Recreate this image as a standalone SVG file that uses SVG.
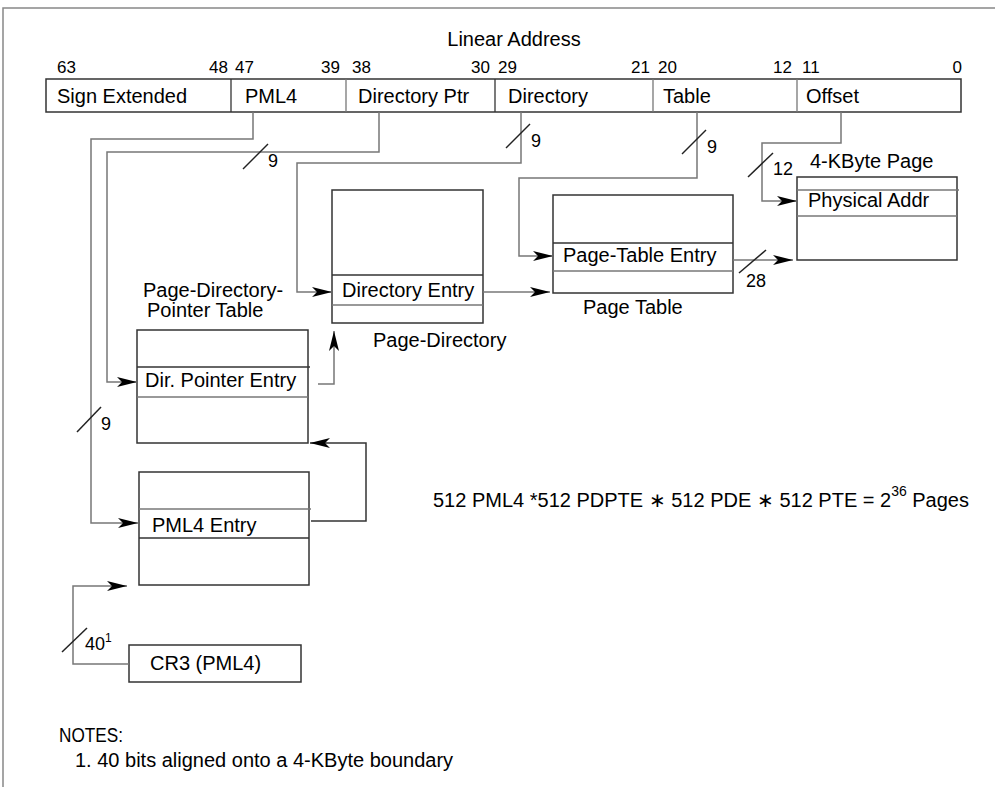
<svg xmlns="http://www.w3.org/2000/svg" width="995" height="797" viewBox="0 0 995 797">
  <style>
    text { font-family: "Liberation Sans", Arial, sans-serif; font-size: 20px; fill: #000; }
    .bit { font-size: 17px; }
    .lbl { font-size: 18px; }
    .box { fill: #fff; stroke: #333; stroke-width: 1.5; }
    .sep { stroke: #777; stroke-width: 1.3; fill: none; }
    .sepd { stroke: #333; stroke-width: 1.3; fill: none; }
    .wire { fill: none; stroke: #777; stroke-width: 1.5; }
    .wired { fill: none; stroke: #333; stroke-width: 1.5; }
    .tick { stroke: #222; stroke-width: 1.5; }
  </style>
  <defs>
    <marker id="arrow" markerUnits="userSpaceOnUse" markerWidth="22" markerHeight="12" refX="20" refY="6" orient="auto">
      <path d="M0,1 L20,6 L0,11 L5,6 Z" fill="#000"/>
    </marker>
  </defs>

  <!-- page frame -->
  <path d="M3,787 V8 H995" fill="none" stroke="#888" stroke-width="1.5"/>

  <!-- linear address register -->
  <g id="linear-address">
    <text x="514" y="46" text-anchor="middle">Linear Address</text>
    <text class="bit" x="57" y="73">63</text>
    <text class="bit" x="228" y="73" text-anchor="end">48</text>
    <text class="bit" x="235" y="73">47</text>
    <text class="bit" x="340" y="73" text-anchor="end">39</text>
    <text class="bit" x="352" y="73">38</text>
    <text class="bit" x="490" y="73" text-anchor="end">30</text>
    <text class="bit" x="498" y="73">29</text>
    <text class="bit" x="650" y="73" text-anchor="end">21</text>
    <text class="bit" x="658" y="73">20</text>
    <text class="bit" x="792" y="73" text-anchor="end">12</text>
    <text class="bit" x="802" y="73">11</text>
    <text class="bit" x="962" y="73" text-anchor="end">0</text>
    <rect class="box" x="46" y="79" width="915" height="33"/>
    <line class="sepd" x1="231" y1="79" x2="231" y2="112"/>
    <line class="sep" x1="346" y1="79" x2="346" y2="112"/>
    <line class="sepd" x1="495" y1="79" x2="495" y2="112"/>
    <line class="sep" x1="653" y1="79" x2="653" y2="112"/>
    <line class="sep" x1="797" y1="79" x2="797" y2="112"/>
    <text x="57" y="103">Sign Extended</text>
    <text x="245" y="103">PML4</text>
    <text x="358" y="103">Directory Ptr</text>
    <text x="508" y="103">Directory</text>
    <text x="663" y="103">Table</text>
    <text x="806" y="103">Offset</text>
  </g>

  <!-- page-directory-pointer table -->
  <g id="pdpt">
    <text x="143" y="297">Page-Directory-<tspan x="147" dy="20">Pointer Table</tspan></text>
    <rect class="box" x="137" y="330" width="171" height="113"/>
    <line class="sepd" x1="137" y1="367" x2="310" y2="367"/>
    <line class="sep" x1="137" y1="397" x2="308" y2="397"/>
    <text x="145" y="387">Dir. Pointer Entry</text>
  </g>

  <!-- page directory -->
  <g id="page-directory">
    <rect class="box" x="332" y="190" width="151" height="133"/>
    <line class="sepd" x1="332" y1="275" x2="483" y2="275"/>
    <line class="sep" x1="332" y1="305" x2="483" y2="305"/>
    <text x="342" y="297">Directory Entry</text>
    <text x="373" y="347">Page-Directory</text>
  </g>

  <!-- page table -->
  <g id="page-table">
    <rect class="box" x="553" y="195" width="180" height="98"/>
    <line class="sepd" x1="553" y1="243" x2="733" y2="243"/>
    <line class="sep" x1="553" y1="271" x2="733" y2="271"/>
    <text x="563" y="262">Page-Table Entry</text>
    <text x="583" y="314">Page Table</text>
  </g>

  <!-- 4-KByte page -->
  <g id="page-4k">
    <text x="810" y="168">4-KByte Page</text>
    <rect class="box" x="797" y="177" width="160" height="83"/>
    <line class="sep" x1="797" y1="190" x2="959" y2="190"/>
    <line class="sep" x1="797" y1="216" x2="957" y2="216"/>
    <text x="808" y="207">Physical Addr</text>
  </g>

  <!-- PML4 table -->
  <g id="pml4">
    <rect class="box" x="139" y="472" width="170" height="113"/>
    <line class="sep" x1="139" y1="509" x2="311" y2="509"/>
    <line class="sepd" x1="139" y1="538" x2="309" y2="538"/>
    <text x="152" y="532">PML4 Entry</text>
  </g>

  <!-- CR3 register -->
  <g id="cr3">
    <rect class="box" x="129" y="645" width="172" height="37"/>
    <text x="150" y="670">CR3 (PML4)</text>
  </g>

  <!-- connectors -->
  <g id="connectors">
    <path class="wire" d="M253,112 V139 H91 V523 H138" marker-end="url(#arrow)"/>
    <path class="wire" d="M379,112 V152 H107 V382 H137" marker-end="url(#arrow)"/>
    <path class="wire" d="M521,112 V163 H297 V292 H332" marker-end="url(#arrow)"/>
    <path class="wire" d="M697,112 V178 H519 V256 H553" marker-end="url(#arrow)"/>
    <path class="wire" d="M841,112 V143 H762 V201 H797" marker-end="url(#arrow)"/>
    <path class="wire" d="M483,292 H550" marker-end="url(#arrow)"/>
    <path class="wire" d="M733,260 H793" marker-end="url(#arrow)"/>
    <path class="wire" d="M318,384 H334 V331" marker-end="url(#arrow)"/>
    <path class="wired" d="M311,521 H366 V443 H310" marker-end="url(#arrow)"/>
    <path class="wire" d="M129,664 H73 V586 H127" marker-end="url(#arrow)"/>

    <!-- bit-width ticks -->
    <line class="tick" x1="77" y1="432" x2="101" y2="407"/>
    <text class="lbl" x="101" y="430">9</text>
    <line class="tick" x1="243" y1="169" x2="268" y2="144"/>
    <text class="lbl" x="268" y="167">9</text>
    <line class="tick" x1="506" y1="148" x2="530" y2="124"/>
    <text class="lbl" x="531" y="147">9</text>
    <line class="tick" x1="682" y1="154" x2="706" y2="130"/>
    <text class="lbl" x="707" y="153">9</text>
    <line class="tick" x1="748" y1="177" x2="773" y2="153"/>
    <text class="lbl" x="773" y="175">12</text>
    <line class="tick" x1="739" y1="273" x2="766" y2="250"/>
    <text class="lbl" x="746" y="287">28</text>
    <line class="tick" x1="62" y1="652" x2="87" y2="628"/>
    <text class="lbl" x="85" y="650">40<tspan font-size="12" dy="-8">1</tspan></text>
  </g>

  <!-- page count -->
  <text x="433" y="507">512 PML4 *512 PDPTE ∗ 512 PDE ∗ 512 PTE = 2<tspan font-size="14" dy="-11">36</tspan><tspan dy="11"> Pages</tspan></text>

  <!-- notes -->
  <text x="59" y="742" textLength="64" lengthAdjust="spacingAndGlyphs">NOTES:</text>
  <text x="75" y="767">1. 40 bits aligned onto a 4-KByte boundary</text>
</svg>
